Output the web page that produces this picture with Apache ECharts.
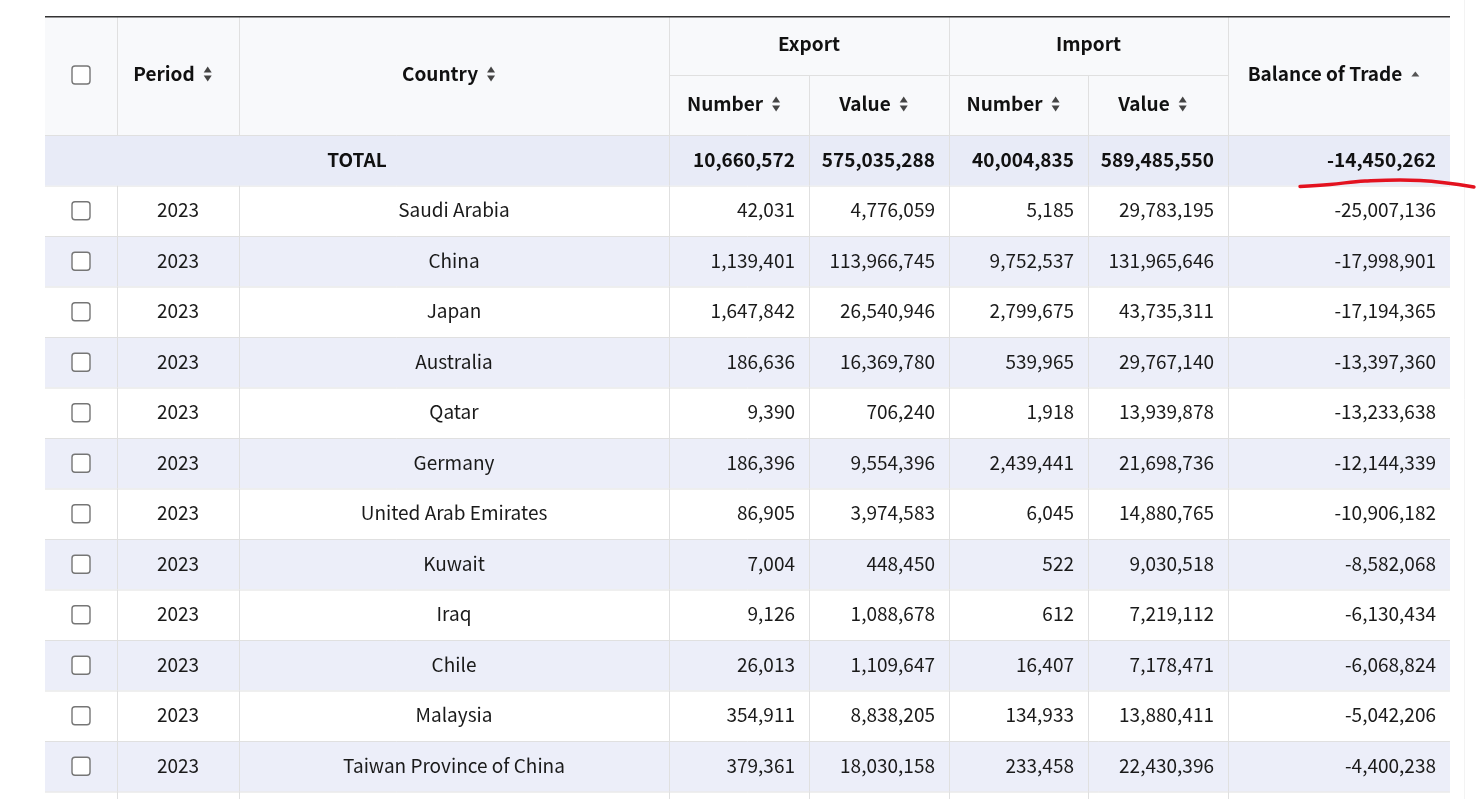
<!DOCTYPE html>
<html><head><meta charset="utf-8">
<script src="https://cdn.jsdelivr.net/npm/echarts@6/dist/echarts.min.js"></script>
<style>html,body{margin:0;padding:0;background:#fff;overflow:hidden}#chart{width:1476px;height:799px}</style>
</head><body><div id="chart"></div>
<script>
// ---------- DATA ----------
const periods = ['2023','2023','2023','2023','2023','2023','2023','2023','2023','2023','2023','2023'];
const countries = ['Saudi Arabia','China','Japan','Australia','Qatar','Germany','United Arab Emirates','Kuwait','Iraq','Chile','Malaysia','Taiwan Province of China'];
const exportNumber = [42031,1139401,1647842,186636,9390,186396,86905,7004,9126,26013,354911,379361];
const exportValue = [4776059,113966745,26540946,16369780,706240,9554396,3974583,448450,1088678,1109647,8838205,18030158];
const importNumber = [5185,9752537,2799675,539965,1918,2439441,6045,522,612,16407,134933,233458];
const importValue = [29783195,131965646,43735311,29767140,13939878,21698736,14880765,9030518,7219112,7178471,13880411,22430396];
const balance = [-25007136,-17998901,-17194365,-13397360,-13233638,-12144339,-10906182,-8582068,-6130434,-6068824,-5042206,-4400238];
const totalLabel = 'TOTAL';
const totalValues = [10660572,575035288,40004835,589485550,-14450262];
const groupHeaders = ['Export','Import'];
const subHeaders = ['Number','Value','Number','Value'];
const mainHeaders = ['Period','Country','Balance of Trade'];

// ---------- LAYOUT ----------
const W = 1476, H = 799;
const COL = [45,117,239,669,809,949,1088,1228,1450];
const TOP = 16, GROUP_Y = 75, HEAD_BOT = 135, ROW_H = 50.5;
const PAD = 14;
const FONT_FAMILY = '"Noto Sans CJK KR","Noto Sans",sans-serif';
const FS = 19;
const F_REG = `400 ${FS}px ${FONT_FAMILY}`;
const F_BOLD = `700 ${FS}px ${FONT_FAMILY}`;
const LINE = '#e0e0e0', TXT = '#1a1a1a', HEAD_BG = '#f8f9fb', TOTAL_BG = '#e8ebf7', ALT_BG = '#eceef9';

const mctx = document.createElement('canvas').getContext('2d');
function tw(t, font){ mctx.font = font; return mctx.measureText(t).width; }
const fmt = v => v.toLocaleString('en-US');
const rowTop = r => HEAD_BOT + r * ROW_H; // r=0 total row, r>=1 data rows

function line(api, x1, y1, x2, y2, color, w){
  const a = api.coord([x1,y1]), b = api.coord([x2,y2]);
  return {type:'line', shape:{x1:a[0],y1:a[1],x2:b[0],y2:b[1]}, style:{stroke:color||LINE, lineWidth:w||1}, silent:true};
}
function rect(api, x0, y0, x1, y1, fill){
  const a = api.coord([x0,y0]), b = api.coord([x1,y1]);
  return {type:'rect', shape:{x:a[0],y:a[1],width:b[0]-a[0],height:b[1]-a[1]}, style:{fill}, silent:true};
}
function text(api, t, x, y, align, font, color){
  const p = api.coord([x,y]);
  return {type:'text', style:{text:t, x:p[0], y:p[1], align, verticalAlign:'middle', font, fill:color||TXT}, silent:true};
}
function checkbox(api, cx, cy){
  const p = api.coord([cx,cy]);
  return {type:'rect', shape:{x:p[0]-9, y:p[1]-9, width:18, height:18, r:3}, style:{fill:'#fff', stroke:'#767676', lineWidth:1.4}, silent:true};
}
function sortIcon(api, cx, cy, both){
  const p = api.coord([cx,cy]);
  const kids = [];
  if (both){
    kids.push({type:'polygon', shape:{points:[[p[0]-4,p[1]-1.5],[p[0]+4,p[1]-1.5],[p[0],p[1]-7.5]]}, style:{fill:'#444'}, silent:true});
    kids.push({type:'polygon', shape:{points:[[p[0]-4,p[1]+1.5],[p[0]+4,p[1]+1.5],[p[0],p[1]+7.5]]}, style:{fill:'#444'}, silent:true});
  } else {
    kids.push({type:'polygon', shape:{points:[[p[0]-4,p[1]+2.5],[p[0]+4,p[1]+2.5],[p[0],p[1]-2.5]]}, style:{fill:'#555'}, silent:true});
  }
  return kids;
}
function headerWithIcon(api, t, x0, x1, cy, both){
  const w = tw(t, F_BOLD);
  const total = w + 9 + 9 + 10;
  const start = (x0 + x1)/2 - total/2;
  return [text(api, t, start, cy, 'left', F_BOLD, '#111')].concat(sortIcon(api, start + w + 13, cy, both));
}

function renderHeader(params, api){
  const c = [];
  c.push(rect(api, COL[0], TOP, COL[8], HEAD_BOT, HEAD_BG));
  [1,2,3,5,7].forEach(i => c.push(line(api, COL[i]+0.5, TOP, COL[i]+0.5, HEAD_BOT)));
  [4,6].forEach(i => c.push(line(api, COL[i]+0.5, GROUP_Y, COL[i]+0.5, HEAD_BOT)));
  c.push(line(api, COL[3], GROUP_Y+0.5, COL[7], GROUP_Y+0.5));
  c.push(line(api, COL[0], TOP+0.75, COL[8], TOP+0.75, '#333', 1.5));
  const midY = (TOP + HEAD_BOT)/2 - 1.5;
  c.push(checkbox(api, (COL[0]+COL[1])/2, midY + 1));
  headerWithIcon(api, mainHeaders[0], COL[1], COL[2], midY, true).forEach(e=>c.push(e));
  headerWithIcon(api, mainHeaders[1], COL[2], COL[3], midY, true).forEach(e=>c.push(e));
  headerWithIcon(api, mainHeaders[2], COL[7], COL[8], midY, false).forEach(e=>c.push(e));
  const gy = (TOP + GROUP_Y)/2 - 1.5;
  c.push(text(api, groupHeaders[0], (COL[3]+COL[5])/2, gy, 'center', F_BOLD, '#111'));
  c.push(text(api, groupHeaders[1], (COL[5]+COL[7])/2, gy, 'center', F_BOLD, '#111'));
  const sy = (GROUP_Y + HEAD_BOT)/2 - 1;
  subHeaders.forEach((t,k) => headerWithIcon(api, t, COL[3+k], COL[4+k], sy, true).forEach(e=>c.push(e)));
  return {type:'group', children:c};
}

function renderTotal(params, api){
  const y0 = rowTop(0), y1 = rowTop(1), cy = (y0+y1)/2 - 0.5;
  const c = [rect(api, COL[0], y0, COL[8], y1, TOTAL_BG)];
  [3,4,5,6,7].forEach(i => c.push(line(api, COL[i]+0.5, y0, COL[i]+0.5, y1)));
  c.push(line(api, COL[0], y0+0.5, COL[8], y0+0.5));
  c.push(text(api, totalLabel, (COL[0]+COL[3])/2, cy, 'center', F_BOLD, '#111'));
  totalValues.forEach((v,k) => c.push(text(api, fmt(v), COL[4+k]-PAD, cy, 'right', F_BOLD, '#111')));
  return {type:'group', children:c};
}

function renderRow(params, api){
  const i = api.value(0);
  const r = i + 1;
  const y0 = rowTop(r), y1 = rowTop(r+1), cy = (y0+y1)/2 - 0.5;
  const c = [rect(api, COL[0], y0, COL[8], y1, i % 2 === 1 ? ALT_BG : '#ffffff')];
  [1,2,3,4,5,6,7].forEach(k => c.push(line(api, COL[k]+0.5, y0, COL[k]+0.5, y1)));
  c.push(line(api, COL[0], y0+0.5, COL[8], y0+0.5));
  c.push(checkbox(api, (COL[0]+COL[1])/2, cy + 0.5));
  c.push(text(api, periods[i], (COL[1]+COL[2])/2, cy, 'center', F_REG));
  c.push(text(api, countries[i], (COL[2]+COL[3])/2, cy, 'center', F_REG));
  const vals = [exportNumber[i], exportValue[i], importNumber[i], importValue[i], balance[i]];
  vals.forEach((v,k) => c.push(text(api, fmt(v), COL[4+k]-PAD, cy, 'right', F_REG)));
  if (i === countries.length - 1){
    c.push(line(api, COL[0], y1+0.5, COL[8], y1+0.5));
    [1,2,3,4,5,6,7].forEach(k => c.push(line(api, COL[k]+0.5, y1, COL[k]+0.5, H)));
  }
  return {type:'group', children:c};
}

function renderNote(params, api){
  // hand-drawn red underline beneath the total balance value
  const xr = COL[8], yb = rowTop(1);
  const pts = [[xr-150,yb+1],[xr-120,yb-1],[xr-85,yb-4.5],[xr-30,yb-5],[xr+24,yb+1.5]].map(p=>api.coord(p));
  return {type:'polyline', shape:{points:pts, smooth:0.4}, style:{stroke:'#e3121f', lineWidth:3.4, lineCap:'round', fill:null}, silent:true};
}
function renderEdge(params, api){
  return line(api, 1464.5, 0, 1464.5, H, '#f3f3f3', 1);
}

const chart = echarts.init(document.getElementById('chart'), null, {renderer:'canvas'});
chart.setOption({
  animation:false,
  backgroundColor:'#ffffff',
  grid:{left:0, right:0, top:0, bottom:0},
  xAxis:{type:'value', min:0, max:W, show:false},
  yAxis:{type:'value', min:0, max:H, inverse:true, show:false},
  tooltip:{show:false},
  series:[
    {type:'custom', name:'edge', data:[[0,0]], renderItem:renderEdge, z:1},
    {type:'custom', name:'header', data:[[0,0]], renderItem:renderHeader, z:2},
    {type:'custom', name:'rows', data:countries.map((_,i)=>[i,0]), renderItem:renderRow, z:2},
    {type:'custom', name:'total', data:[[0,0]], renderItem:renderTotal, z:3},
    {type:'custom', name:'note', data:[[0,0]], renderItem:renderNote, z:4}
  ]
});
</script></body></html>
